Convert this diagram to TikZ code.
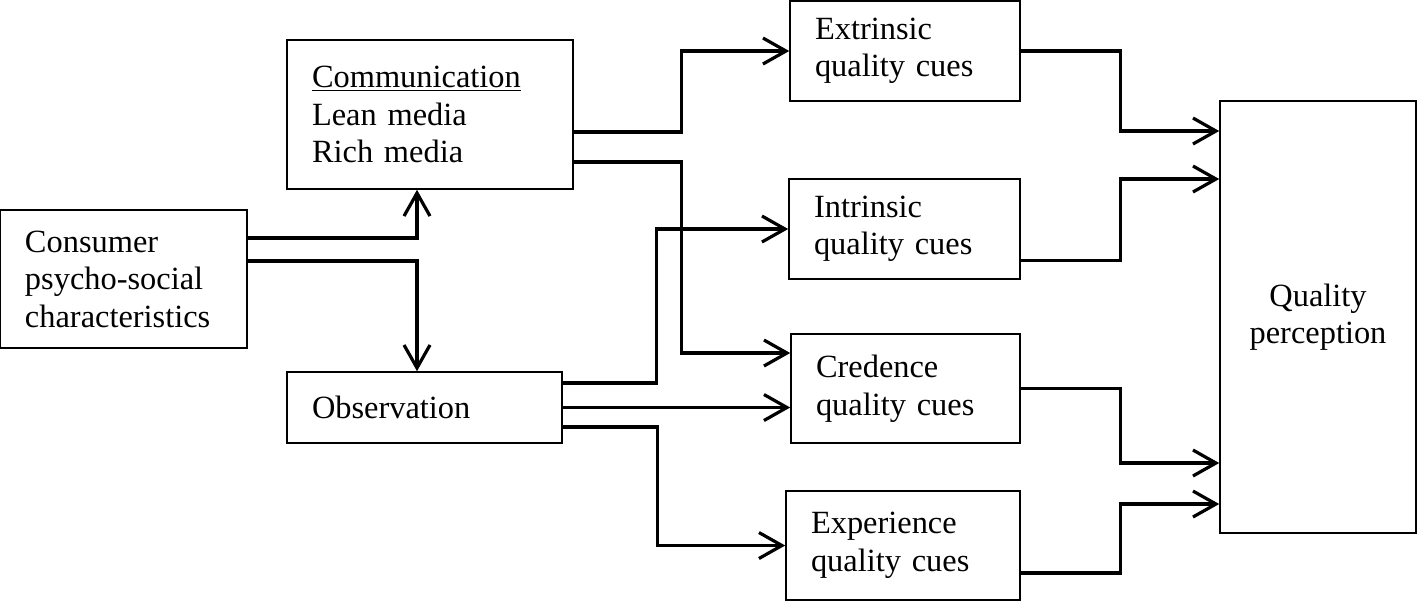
\documentclass[tikz,border=0pt]{standalone}
\usepackage{fontspec}
\setmainfont{Liberation Serif}
\usetikzlibrary{arrows.meta, positioning, calc}
\tikzstyle{box} = [rectangle, draw=black, line width=0.8pt, inner xsep=12.5pt, inner ysep=0pt, align=left]
\tikzstyle{arrow} = [line width=1.6pt, -{Straight Barb[length=11.5pt, width=13pt]}]

\begin{document}
\begin{tikzpicture}[x=0.5pt, y=-0.5pt, font=\fontsize{16.2}{18.75}\selectfont]
			\useasboundingbox (0,0) rectangle (1417,602);
			
			\node (cons) [box, minimum height=69pt, text width=98.5pt] at (123.5,279) {Consumer\\psycho-social\\characteristics};
			
			\node (comm) [box, minimum height=74.5pt, text width=118pt] at (430,114.5) {\underline{Communication}\\Lean media\\Rich media};
			
			\node (obs) [box, minimum height=35.5pt, text width=112.5pt] at (424.5,407.5) {Observation};
			
			\node (ext) [box, minimum height=50pt, text width=90pt] at (905,51) {Extrinsic\\quality cues};
			
			\node (int) [box, minimum height=50pt, text width=90.5pt] at (904.5,229) {Intrinsic\\quality cues};
			
			\node (cred) [box, minimum height=54.5pt, text width=89.5pt] at (905.5,388.5) {Credence\\quality cues};
			
			\node (exp) [box, minimum height=54.5pt, text width=92pt] at (903,545.5) {Experience\\quality cues};
			
			\node (qual) [box, minimum height=216pt, text width=73pt, align=center] at (1318,317) {Quality\\perception};
			
			\draw [arrow] ([yshift=20.5pt]cons.east) -| ([xshift=-6.5pt]comm.south);
			\draw [arrow] ([yshift=9pt]cons.east) -| ([xshift=-3.75pt]obs.north);
			\draw [arrow] ([yshift=-8.75pt]comm.east) -- ++(54pt,0) |- (ext.west);
			\draw [arrow] ([yshift=-23.75pt]comm.east) -- ++(54pt,0) |- ([yshift=17.75pt]cred.west);
			\draw [arrow] ([yshift=12.25pt]obs.east) -- ++(47pt,0) |- (int.west);
			\draw [arrow] (obs.east) -- (obs.east -| cred.west);
			\draw [arrow] ([yshift=-9.75pt]obs.east) -- ++(47.5pt,0) |- (exp.west);
			\draw [arrow] (ext.east) -- ++(50pt,0) |- ([yshift=93pt]qual.west);
			\draw [arrow] ([yshift=-15.75pt]int.east) -- ++(50pt,0) |- ([yshift=69pt]qual.west);
			\draw [arrow] (cred.east) -- ++(50pt,0) |- ([yshift=-73pt]qual.west);
			\draw [arrow] ([yshift=-13.75pt]exp.east) -- ++(50pt,0) |- ([yshift=-93.5pt]qual.west);
			\end{tikzpicture}
\end{document}
